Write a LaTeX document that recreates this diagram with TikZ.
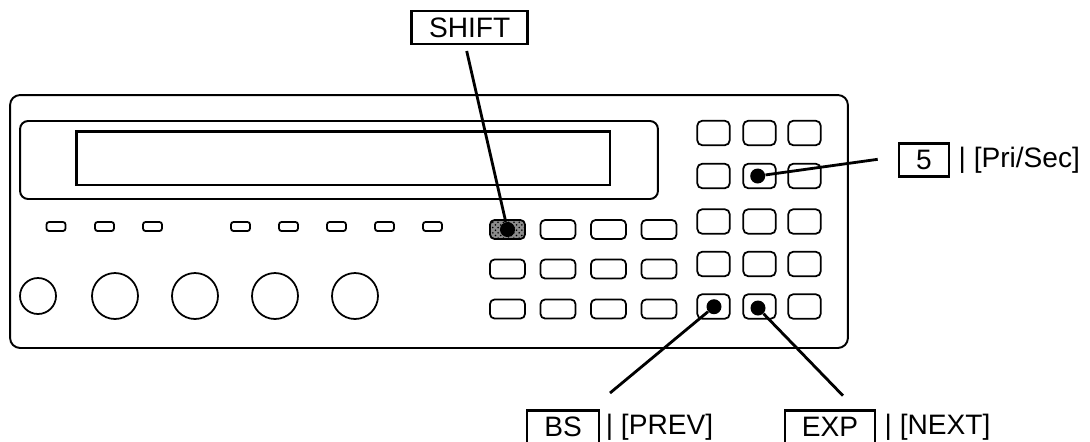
\documentclass[tikz,border=0pt]{standalone}
\usepackage{fontspec}
\setmainfont{Liberation Sans}
\usetikzlibrary{positioning,patterns}
\definecolor{keygray}{gray}{0.55}

\begin{document}
\begin{tikzpicture}[
  x=0.02cm, y=-0.02cm,
  panel/.style={draw, line width=1.1pt, rounded corners=0.2cm, inner sep=0pt, outer sep=0pt},
  screen/.style={draw, line width=1.3pt, inner sep=0pt, outer sep=0pt},
  led/.style={draw, line width=1pt, rounded corners=0.05cm, minimum width=0.38cm, minimum height=0.18cm, inner sep=0pt},
  knob/.style={draw, circle, line width=1pt, inner sep=0pt},
  softkey/.style={draw, line width=1pt, rounded corners=0.09cm, minimum width=0.7cm, minimum height=0.38cm, inner sep=0pt},
  numkey/.style={draw, line width=1pt, rounded corners=0.1cm, minimum width=0.65cm, minimum height=0.49cm, inner sep=0pt},
  tag/.style={draw, line width=1.4pt, minimum height=0.66cm, inner sep=0pt, font=\fontsize{16}{18}\selectfont},
  lbl/.style={inner sep=0pt, font=\fontsize{16}{18}\selectfont},
  pin/.style={fill, circle, minimum size=0.3cm, inner sep=0pt},
  lead/.style={line width=1.6pt}
]
  \path[use as bounding box, clip] (0,0) rectangle (1090,441);

  % front panel
  \node[panel, minimum width=16.76cm, minimum height=5.06cm] (front) at (429,221.5) {};
  \node[panel, rounded corners=0.16cm, minimum width=12.76cm, minimum height=1.56cm] (disp) at (339,160) {};
  \node[screen, minimum width=10.67cm, minimum height=1.07cm] (lcd) at (343.2,158.3) {};

  % leds
  \foreach \x/\n in {56/1, 104.5/2, 152.5/3, 240.5/4, 288.5/5, 336.5/6, 384.5/7, 432.5/8}
    \node[led] (led\n) at (\x,226.5) {};

  % knobs
  \node[knob, minimum size=0.72cm] (knob0) at (38,296) {};
  \foreach \x/\n in {115/1, 195/2, 275/3, 355/4}
    \node[knob, minimum size=0.92cm] (knob\n) at (\x,296) {};

  % left keys
  \node[softkey, preaction={fill=keygray}, pattern=crosshatch dots, pattern color=black] (shift) at (507.5,229.5) {};
  \foreach \x/\n in {558/2, 608.5/3, 659/4}
    \node[softkey] (ka\n) at (\x,229.5) {};
  \foreach \y/\r in {269/b, 309/c}
    \foreach \x/\n in {507.5/1, 558/2, 608.5/3, 659/4}
      \node[softkey] (k\r\n) at (\x,\y) {};

  % right keys
  \foreach \y/\r in {133/a, 176/b, 221.5/c, 264/d, 306.5/e}
    \foreach \x/\n in {713.5/1, 759.5/2, 804.5/3}
      \node[numkey] (n\r\n) at (\x,\y) {};

  % pins
  \node[pin] (pshift) at (507.5,229.5) {};
  \node[pin] (pfive)  at (757.7,176) {};
  \node[pin] (pbs)    at (714,306.7) {};
  \node[pin] (pexp)   at (758,308) {};

  % labels
  \node[tag, minimum width=2.32cm] (tshift) at (469.7,27.5) {SHIFT};
  \node[tag, minimum width=1cm]    (tfive)  at (924,160) {5};
  \node[tag, minimum width=1.44cm] (tbs)    at (563,427) {BS};
  \node[tag, minimum width=1.8cm]  (texp)   at (830,427) {EXP};
  \node[lbl, right=4.6pt] (lfive) at (tfive.east) {| [Pri/Sec]};
  \node[lbl, right=3pt]   (lbs)   at (tbs.east)   {| [PREV]};
  \node[lbl, right=4.6pt] (lexp)  at (texp.east)  {| [NEXT]};

  \coordinate (eshift) at (466.7,51);
  \coordinate (efive)  at (877.7,159.3);
  \coordinate (ebs)    at (610,393);
  \coordinate (eexp)   at (843,395.7);

  \draw[lead] (eshift) -- (pshift);
  \draw[lead] (efive) -- (pfive);
  \draw[lead] (ebs) -- (pbs);
  \draw[lead] (eexp) -- (pexp);
\end{tikzpicture}
\end{document}
